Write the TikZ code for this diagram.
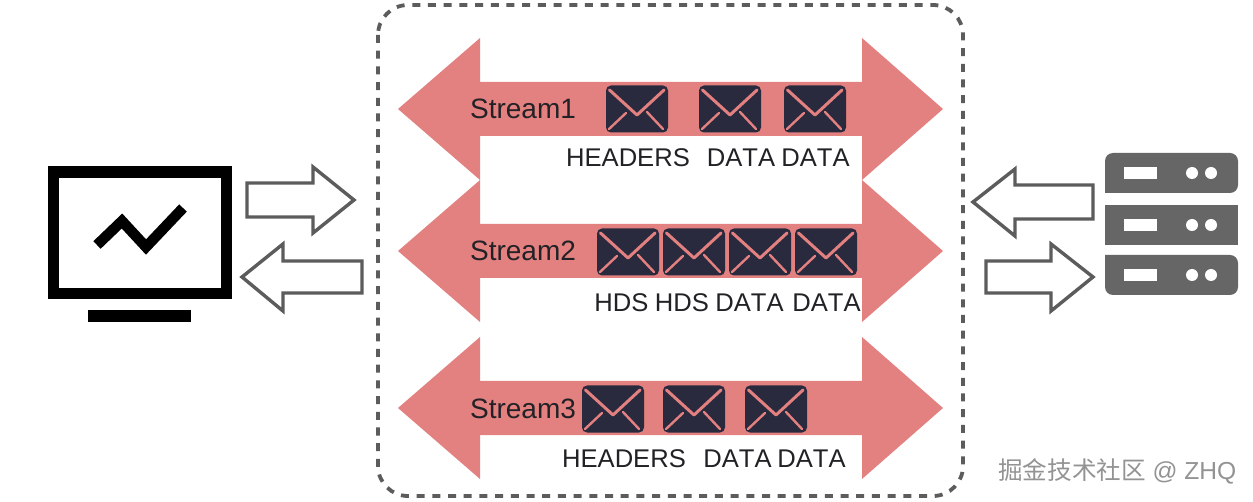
\documentclass[tikz,border=0pt]{standalone}
\usepackage{fontspec}
\setmainfont[Kerning=Off]{Liberation Sans}
\newfontfamily\cjkwm{Noto Sans CJK SC}
\definecolor{pinkband}{HTML}{E38080}
\definecolor{envdark}{HTML}{2A2A3E}
\definecolor{greyicon}{HTML}{666666}
\definecolor{greyline}{HTML}{5C5C5C}
\definecolor{txtdark}{HTML}{222226}
\tikzset{
  x=1pt,y=-1pt,
  band/.style={fill=pinkband,draw=none},
  blockarrow/.style={draw=greyline,line width=3.4pt,fill=white,line join=miter},
  lbl/.style={font=\fontsize{25.6}{28}\selectfont,text=txtdark,inner sep=0pt,anchor=base},
  streamlbl/.style={font=\fontsize{28}{30}\selectfont,text=txtdark,inner sep=0pt,anchor=base},
  servrow/.style={fill=greyicon,draw=none},
  envelope/.pic={
    \fill[envdark,rounded corners=5pt] (-31,-23.5) rectangle (31,23.5);
    \draw[pinkband,line width=3pt,line cap=round,line join=round] (-27.5,-19) -- (0,6) -- (27,-19);
    \draw[pinkband,line width=2.4pt,line cap=round] (-28,20) -- (-11,4);
    \draw[pinkband,line width=2.4pt,line cap=round] (26,20) -- (10,3);
  }
}
\newcommand{\dblarrow}[1]{%
  \fill[band] (398,#1) -- (480,#1-71) -- (480,#1-27) -- (862,#1-27) -- (862,#1-71) -- (943,#1) -- (862,#1+71) -- (862,#1+27) -- (480,#1+27) -- (480,#1+71) -- cycle;}
\begin{document}
\begin{tikzpicture}
\useasboundingbox (0,0) rectangle (1253,502);
\fill[white] (0,0) rectangle (1253,502);
% container
\draw[greyline,line width=3.8pt,dash pattern=on 8pt off 7.7pt,rounded corners=30pt] (378,5) rectangle (963,496);
% bands
\dblarrow{109}
\dblarrow{251}
\dblarrow{408}
% envelopes
\pic at (637,109) {envelope};
\pic at (730,109) {envelope};
\pic at (815,109) {envelope};
\pic at (628,252) {envelope};
\pic at (694,252) {envelope};
\pic at (760,252) {envelope};
\pic at (826,252) {envelope};
\pic at (613,409) {envelope};
\pic at (694,409) {envelope};
\pic at (776,409) {envelope};
% labels
\node[streamlbl] (s1) at (523,119) {Stream1};
\node[streamlbl] (s2) at (523,261) {Stream2};
\node[streamlbl] (s3) at (523,418) {Stream3};
\node[lbl] (a1) at (628,167) {HEADERS};
\node[lbl] (a2) at (741,167) {DATA};
\node[lbl] (a3) at (815.5,167) {DATA};
\node[lbl] (b1) at (621.5,312) {HDS};
\node[lbl] (b2) at (682,312) {HDS};
\node[lbl] (b3) at (749.5,312) {DATA};
\node[lbl] (b4) at (826.5,312) {DATA};
\node[lbl] (c1) at (624,467) {HEADERS};
\node[lbl] (c2) at (737.5,467) {DATA};
\node[lbl] (c3) at (811.5,467) {DATA};
% monitor
\draw[black,line width=11.5pt,line join=miter] (53.5,172) rectangle (226.5,293.5);
\fill[black] (88,310) rectangle (191,322);
\draw[black,line width=10.5pt,line join=miter] (97,245) -- (122,221) -- (146,247) -- (183,208);
% client arrows
\draw[blockarrow] (247,183) -- (313,183) -- (313,167) -- (354,200) -- (313,233) -- (313,217) -- (247,217) -- cycle;
\draw[blockarrow] (362,261) -- (283,261) -- (283,244) -- (242,277) -- (283,311) -- (283,293) -- (362,293) -- cycle;
% server arrows
\draw[blockarrow] (1093,185) -- (1015,185) -- (1015,169) -- (973,202) -- (1015,236) -- (1015,219) -- (1093,219) -- cycle;
\draw[blockarrow] (986,261) -- (1051,261) -- (1051,244) -- (1093,277) -- (1051,311) -- (1051,293) -- (986,293) -- cycle;
% server
\fill[servrow,rounded corners=8pt] (1105,193) -- (1105,153) -- (1238,153) -- (1238,193) [sharp corners] -- cycle;
\fill[servrow] (1105,205) rectangle (1238,245);
\fill[servrow,rounded corners=8pt] (1105,255) -- (1105,295) -- (1238,295) -- (1238,255) [sharp corners] -- cycle;
\foreach \y in {173,225,275}{
  \fill[white] (1124,\y-6) rectangle (1157,\y+6);
  \fill[white] (1192,\y) circle (6);
  \fill[white] (1211,\y) circle (6);
}
% watermark
\node[inner sep=0pt,anchor=base west,text=gray!85,font=\fontsize{24.6}{26}\selectfont] (wm) at (998,479) {{\cjkwm 掘金技术社区} @ ZHQ};
\end{tikzpicture}
\end{document}
